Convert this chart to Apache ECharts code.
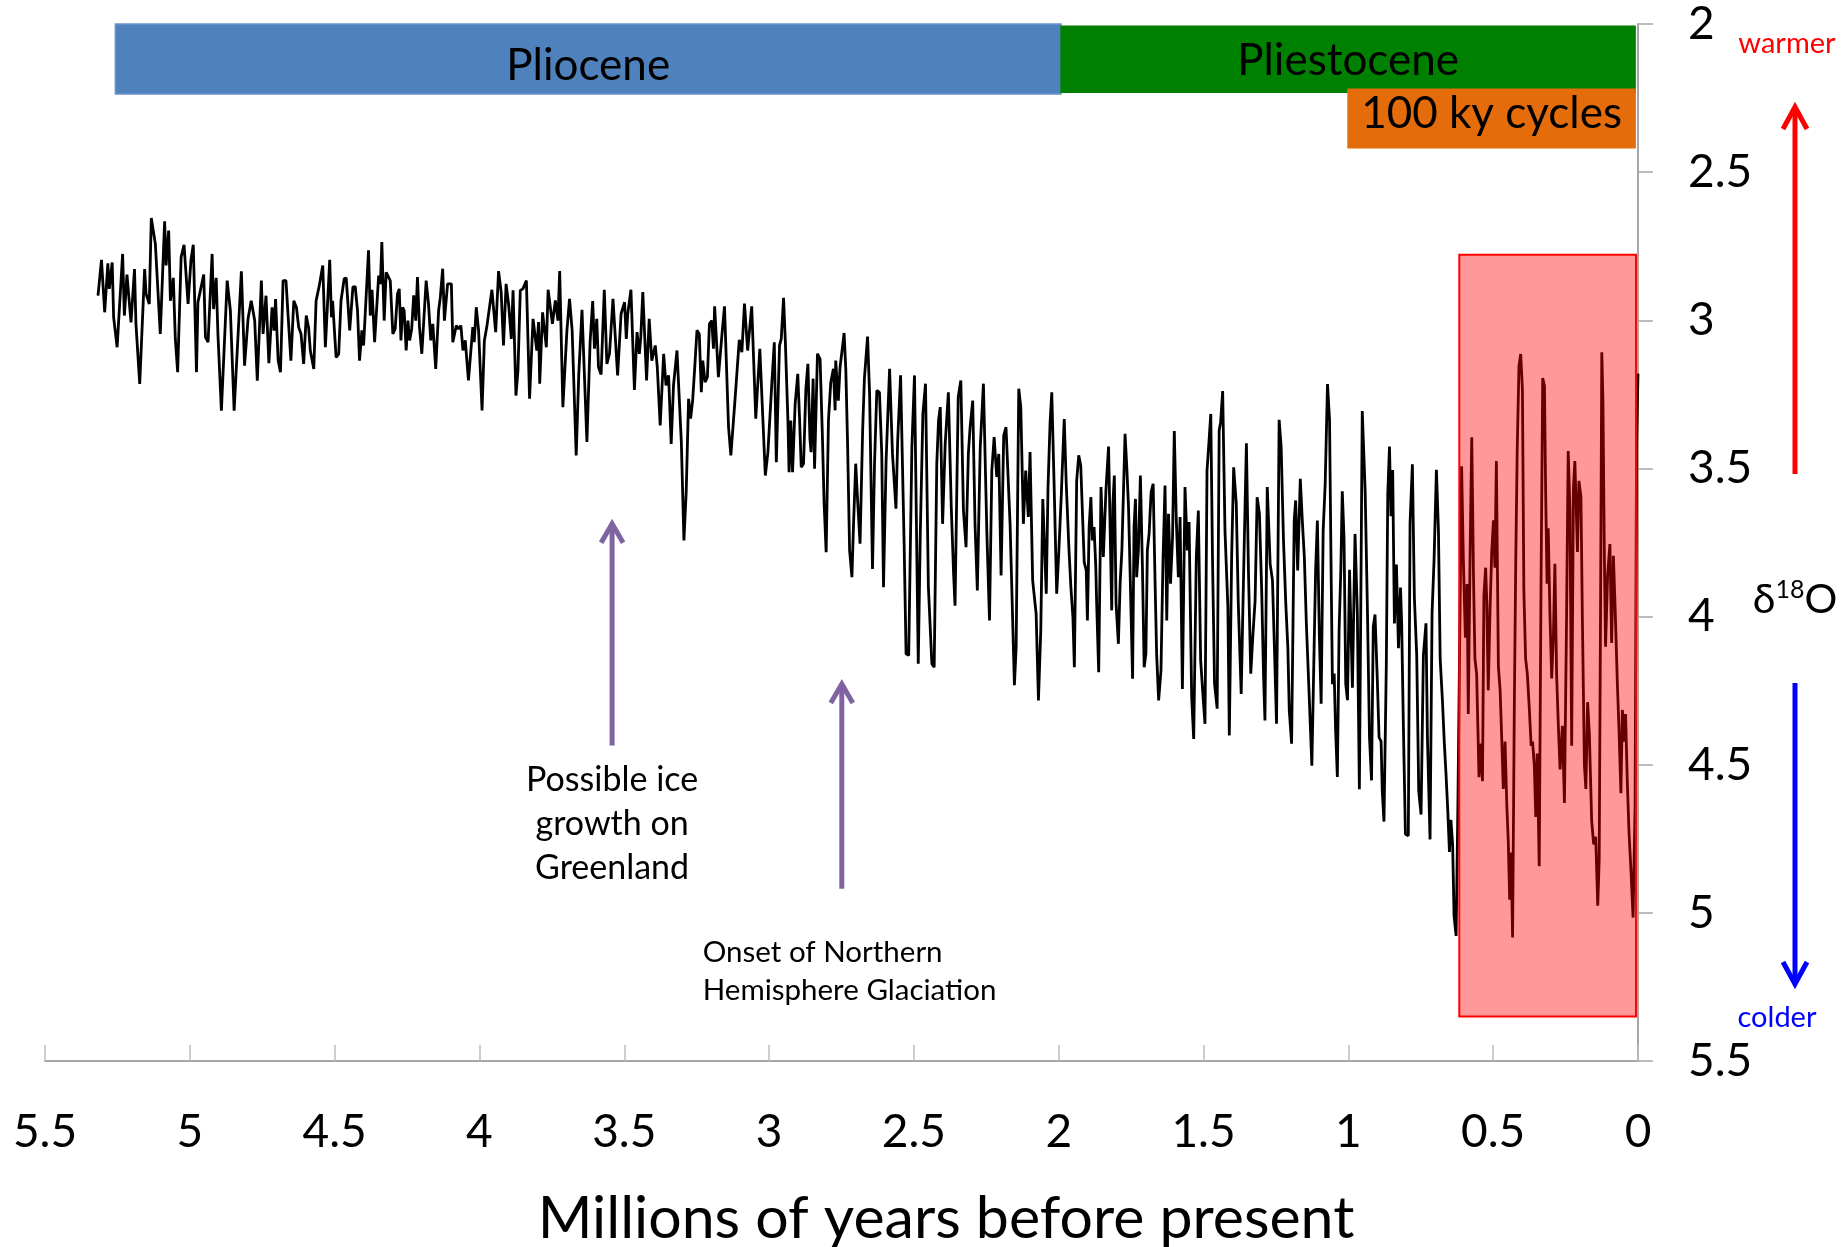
<!doctype html>
<html>
<head>
<meta charset="utf-8">
<style>
html, body { margin: 0; padding: 0; background: #fff; }
#main { width: 1845px; height: 1247px; }
</style>
</head>
<body>
<div id="main"></div>
<script src="https://cdn.jsdelivr.net/npm/echarts@6/dist/echarts.min.js"></script>
<script>
// benthic d18O stack: [age (Ma), d18O (permil)]
var d18oStack = [
  [5.317,2.917],[5.305,2.796],[5.294,2.973],[5.283,2.808],[5.278,2.894],[5.268,2.805],[5.263,2.990],[5.251,3.091],[5.232,2.776],[5.226,2.984],
  [5.217,2.846],[5.203,3.007],[5.191,2.827],[5.186,3.012],[5.173,3.215],[5.156,2.827],[5.151,2.911],[5.140,2.945],[5.133,2.655],[5.119,2.742],
  [5.102,3.046],[5.087,2.666],[5.082,2.815],[5.073,2.697],[5.067,2.934],[5.057,2.857],[5.050,3.063],[5.042,3.175],[5.030,2.787],[5.020,2.745],
  [5.006,2.945],[4.996,2.796],[4.988,2.745],[4.977,3.175],[4.972,2.939],[4.952,2.846],[4.946,3.057],[4.937,3.074],[4.923,2.776],[4.918,2.962],
  [4.909,2.857],[4.903,3.046],[4.891,3.305],[4.871,2.866],[4.860,2.967],[4.847,3.305],[4.822,2.835],[4.811,3.153],[4.799,2.995],[4.788,2.934],
  [4.776,3.001],[4.767,3.204],[4.753,2.866],[4.747,3.046],[4.737,2.917],[4.727,3.145],[4.716,2.956],[4.709,3.035],[4.704,2.928],[4.695,3.136],
  [4.687,3.175],[4.678,2.866],[4.668,2.866],[4.661,2.979],[4.651,3.136],[4.641,2.934],[4.632,2.956],[4.624,3.024],[4.616,3.046],[4.607,3.147],
  [4.598,2.984],[4.590,3.024],[4.584,3.102],[4.572,3.164],[4.564,2.934],[4.553,2.883],[4.541,2.815],[4.532,3.091],[4.517,2.796],[4.511,2.990],
  [4.507,2.934],[4.495,3.125],[4.486,3.114],[4.478,2.934],[4.467,2.860],
  [4.460,2.857],[4.448,3.034],[4.437,2.888],[4.429,2.886],[4.421,2.967],[4.414,3.136],[4.406,3.034],[4.400,3.085],[4.383,2.764],[4.377,2.984],
  [4.371,2.897],[4.362,3.074],[4.348,2.849],[4.342,2.877],[4.337,2.736],[4.329,3.001],[4.322,2.838],[4.308,2.866],[4.299,3.046],[4.291,3.029],
  [4.283,2.911],[4.277,2.894],[4.271,3.068],[4.265,2.956],[4.260,2.967],[4.253,3.102],[4.247,3.001],[4.241,3.068],[4.234,3.029],[4.227,2.916],
  [4.220,3.001],[4.214,2.854],[4.207,3.023],[4.199,3.113],[4.184,2.866],[4.176,2.944],[4.168,3.068],[4.161,3.012],[4.151,3.164],[4.141,2.967],
  [4.135,2.922],[4.127,2.826],[4.121,3.001],[4.110,2.877],[4.097,2.877],[4.092,3.074],[4.080,3.018],[4.072,3.029],[4.064,3.018],[4.057,3.102],
  [4.049,3.068],[4.038,3.203],[4.023,3.023],[4.018,3.074],[4.011,2.956],[4.003,3.034],[3.991,3.304],[3.983,3.068],[3.974,3.018],[3.957,2.897],
  [3.944,3.040],[3.934,2.834],[3.925,2.905],[3.917,3.085],[3.908,2.877],[3.899,2.950],[3.890,3.063],[3.884,2.899],[3.874,3.254],[3.867,3.169],
  [3.859,2.899],[3.850,2.894],[3.838,2.866],[3.827,3.265],[3.815,2.995],[3.802,3.102],[3.796,3.006],[3.792,3.214],[3.782,2.973],[3.769,3.091],
  [3.763,2.897],[3.748,3.012],[3.738,2.933],[3.729,3.001],[3.723,2.834],[3.712,3.293],[3.698,3.034],[3.689,2.928],[3.680,3.034],[3.666,3.456],
  [3.657,3.181],[3.646,2.965],[3.629,3.411],[3.618,3.074],
  [3.609,2.935],[3.603,3.096],[3.595,2.995],[3.589,3.158],[3.580,3.183],[3.569,2.897],[3.560,3.147],[3.551,3.113],[3.539,2.928],[3.523,3.186],
  [3.511,2.978],[3.499,2.939],[3.493,3.063],[3.488,2.978],[3.477,2.897],[3.465,3.235],[3.456,3.040],[3.448,3.113],[3.443,3.057],[3.436,2.905],
  [3.423,3.203],[3.414,2.995],[3.405,3.136],[3.393,3.085],[3.386,3.158],[3.376,3.355],[3.364,3.113],[3.356,3.220],[3.347,3.186],[3.338,3.417],
  [3.330,3.220],[3.318,3.102],[3.303,3.411],[3.294,3.743],[3.286,3.574],[3.278,3.265],[3.271,3.332],[3.264,3.271],[3.257,3.164],[3.249,3.034],
  [3.241,3.046],[3.234,3.243],[3.229,3.136],[3.221,3.209],[3.213,3.192],[3.206,3.012],[3.198,3.001],[3.192,3.096],[3.188,2.953],[3.175,3.192],
  [3.163,3.051],[3.154,2.953],[3.140,3.361],[3.132,3.456],[3.117,3.259],[3.103,3.066],[3.094,3.108],[3.085,2.944],[3.074,3.102],[3.060,2.953],
  [3.046,3.332],[3.032,3.096],[3.013,3.524],[3.004,3.445],[2.990,3.203],[2.982,3.074],[2.975,3.479],[2.964,3.085],[2.958,3.063],[2.950,2.924],
  [2.944,3.068],[2.935,3.338],[2.931,3.513],[2.925,3.338],[2.919,3.513],[2.910,3.282],[2.901,3.181],[2.895,3.327],[2.889,3.496],[2.881,3.484],
  [2.873,3.231],[2.866,3.147],[2.859,3.400],[2.855,3.445],[2.848,3.197],[2.843,3.501],[2.833,3.113],[2.824,3.130],[2.816,3.389],[2.810,3.619],
  [2.803,3.783],[2.795,3.338],[2.787,3.209],[2.778,3.164],[2.772,3.304],
  [2.770,3.136],[2.761,3.271],[2.755,3.158],[2.748,3.102],[2.741,3.043],[2.735,3.169],[2.729,3.417],[2.722,3.777],[2.714,3.867],[2.709,3.704],
  [2.701,3.484],[2.694,3.614],[2.686,3.754],[2.677,3.372],[2.671,3.198],[2.660,3.055],[2.653,3.248],[2.643,3.839],[2.636,3.484],[2.628,3.237],
  [2.619,3.243],[2.611,3.451],[2.605,3.901],[2.596,3.473],[2.584,3.164],[2.574,3.451],[2.562,3.636],[2.556,3.406],[2.546,3.186],[2.534,3.743],
  [2.527,4.126],[2.518,4.131],[2.507,3.428],[2.498,3.186],[2.485,4.159],[2.478,3.721],[2.469,3.316],[2.460,3.214],[2.450,3.901],[2.438,4.159],
  [2.430,4.171],[2.421,3.484],[2.415,3.338],[2.409,3.293],[2.401,3.687],[2.392,3.417],[2.381,3.243],[2.371,3.631],[2.363,3.856],[2.358,3.963],
  [2.347,3.259],[2.338,3.203],[2.329,3.642],[2.320,3.766],[2.312,3.451],[2.306,3.361],[2.297,3.271],[2.289,3.687],[2.281,3.912],[2.271,3.428],
  [2.260,3.214],[2.248,3.721],[2.239,4.013],[2.231,3.507],[2.223,3.394],[2.214,3.529],[2.207,3.451],[2.199,3.861],[2.190,3.389],[2.182,3.361],
  [2.168,3.687],[2.153,4.232],[2.147,4.103],[2.138,3.231],[2.131,3.293],[2.122,3.687],[2.114,3.507],[2.105,3.664],[2.099,3.445],[2.090,3.878],
  [2.078,3.991],[2.070,4.283],[2.062,4.047],[2.055,3.603],[2.043,3.923],[2.037,3.563],[2.030,3.349],[2.024,3.243],[2.016,3.552],[2.007,3.923],
  [2.000,3.788],[1.991,3.586],[1.981,3.333],[1.974,3.552],[1.965,3.766],[1.958,3.901],[1.951,4.002],[1.946,4.171],[1.938,3.541],[1.931,3.456],
  [1.924,3.490],[1.918,3.653],[1.912,3.816],[1.905,3.844],[1.901,4.013],[1.895,3.698],[1.889,3.597],[1.884,3.743],[1.878,3.698],[1.872,3.833],
  [1.869,3.957],[1.862,4.188],[1.854,3.563],[1.846,3.799],[1.837,3.574],[1.828,3.426],[1.823,3.676],[1.817,3.979],[1.813,3.619],[1.808,3.524],
  [1.802,3.957],[1.794,4.092],[1.788,3.889],[1.782,3.777],[1.771,3.383],[1.765,3.496],[1.759,3.631],[1.754,3.833],[1.745,4.210],[1.740,3.698],
  [1.735,3.603],[1.731,3.867],[1.725,3.777],[1.718,3.524],[1.711,3.833],[1.705,4.171],[1.699,4.126],[1.694,3.777],[1.688,3.721],[1.681,3.580],
  [1.674,3.552],[1.667,3.901],[1.662,4.126],[1.655,4.283],[1.647,4.182],[1.640,3.811],[1.633,3.558],[1.627,4.013],[1.621,3.653],[1.614,3.889],
  [1.607,3.732],[1.601,3.374],[1.594,3.676],[1.587,3.867],[1.581,3.664],[1.573,4.244],[1.564,3.563],[1.556,3.777],[1.550,3.681],[1.541,4.272],
  [1.534,4.413],[1.525,3.799],[1.518,3.642],[1.510,4.148],[1.500,4.294],[1.495,4.362],[1.488,3.507],[1.481,3.406],[1.475,3.316],[1.469,3.811],
  [1.462,4.227],[1.453,4.311],[1.446,3.372],[1.441,3.344],[1.434,3.239],[1.426,3.709],[1.416,3.968],[1.411,4.401],[1.403,3.799],[1.396,3.496],
  [1.387,3.619],[1.380,3.957],[1.370,4.261],[1.365,4.013],[1.359,3.732],[1.352,3.415],[1.345,3.844],[1.337,4.193],[1.330,4.069],[1.322,3.946],
  [1.315,3.597],[1.307,3.653],[1.299,3.923],[1.293,4.193],[1.288,4.351],[1.280,3.563],[1.270,3.822],[1.262,3.878],[1.255,4.114],[1.248,4.362],
  [1.239,3.336],[1.232,3.428],[1.224,3.743],[1.216,3.957],[1.209,4.103],[1.204,4.317],[1.196,4.429],[1.187,3.676],[1.182,3.608],[1.175,3.844],
  [1.166,3.535],[1.159,3.676],[1.152,3.799],[1.145,4.024],[1.136,4.249],[1.126,4.503],[1.118,4.092],[1.113,3.844],[1.107,3.676],[1.100,4.069],
  [1.094,4.294],[1.087,3.709],[1.080,3.552],
  [1.072,3.215],[1.065,3.336],[1.060,3.806],[1.055,4.228],[1.049,4.192],[1.044,4.384],[1.038,4.541],[1.032,4.047],[1.026,3.842],[1.021,3.577],
  [1.015,3.734],[1.009,4.228],[1.003,4.282],[0.996,3.842],[0.991,4.047],[0.986,4.240],[0.977,3.721],[0.969,3.987],[0.962,4.583],[0.957,3.950],
  [0.952,3.306],[0.942,3.577],[0.934,3.987],[0.927,4.408],[0.920,4.553],[0.914,4.035],[0.908,3.993],[0.900,4.216],[0.894,4.408],[0.887,4.421],
  [0.883,4.589],[0.877,4.692],[0.869,4.167],[0.864,3.589],[0.858,3.426],[0.853,3.661],[0.847,3.505],[0.841,4.023],[0.834,3.824],[0.827,4.107],
  [0.820,3.902],[0.816,4.023],[0.810,4.372],[0.803,4.734],[0.793,4.740],[0.787,3.685],[0.779,3.486],[0.772,3.938],[0.764,4.131],[0.757,4.589],
  [0.749,4.668],[0.741,4.131],[0.732,4.023],[0.727,4.408],[0.718,4.752],[0.711,3.987],[0.704,3.806],[0.696,3.505],[0.689,3.709],[0.683,4.143],
  [0.675,4.288],[0.669,4.421],[0.663,4.529],[0.657,4.650],[0.651,4.794],[0.646,4.686],[0.640,4.770],[0.635,5.011],[0.628,5.078],[0.622,4.650],
  [0.609,3.493],[0.603,3.806],[0.596,4.071],[0.590,3.890],
  [0.586,4.329],[0.580,3.808],[0.574,3.395],[0.568,3.862],[0.563,4.142],[0.557,4.195],[0.553,4.369],[0.549,4.542],[0.543,4.429],[0.537,4.556],
  [0.532,3.929],[0.526,3.835],[0.522,3.955],[0.517,4.249],[0.511,3.982],[0.505,3.782],[0.499,3.675],[0.494,3.835],[0.489,3.475],[0.482,4.169],
  [0.476,4.249],[0.471,4.396],[0.465,4.582],[0.459,4.422],[0.453,4.636],[0.448,4.756],[0.443,4.956],[0.438,4.796],[0.433,5.083],[0.427,4.302],
  [0.422,3.808],[0.417,3.435],[0.411,3.155],[0.405,3.114],[0.399,3.235],[0.394,3.915],[0.388,4.142],[0.382,4.195],[0.375,4.315],[0.369,4.436],
  [0.364,4.422],[0.358,4.502],[0.353,4.676],[0.348,4.462],[0.341,4.843],[0.335,3.915],[0.329,3.195],[0.323,3.221],[0.319,3.568],[0.314,3.889],
  [0.310,3.702],[0.304,3.995],[0.298,4.209],[0.292,4.062],[0.287,3.822],[0.281,4.195],[0.275,4.369],[0.269,4.516],[0.261,4.369],[0.254,4.629],
  [0.247,4.035],[0.241,3.441],[0.235,3.635],[0.229,4.436],[0.223,3.568],[0.218,3.475],[0.209,3.782],[0.204,3.542],[0.197,3.595],[0.192,4.009],
  [0.185,4.502],[0.180,4.582],[0.174,4.289],[0.168,4.396],[0.160,4.689],[0.153,4.769],[0.146,4.743],[0.139,4.976],[0.134,4.823],[0.129,3.915],
  [0.125,3.108],[0.121,3.275],[0.116,3.808],[0.112,4.102],[0.105,3.862],[0.097,3.755],[0.091,4.089],[0.085,3.795],[0.079,3.969],[0.071,4.235],
  [0.066,4.369],[0.059,4.596],[0.054,4.315],[0.047,4.422],[0.043,4.329],[0.037,4.556],[0.031,4.729],[0.024,4.863],[0.017,5.016],[0.010,4.636],
  [0.005,3.420],[0.000,3.180]
];

// epoch / regime bars along the top (ages in Ma)
var epochNames = ['Pliocene', 'Pliestocene', '100 ky cycles'];
var epochFrom = [5.257, 1.992, 1.001];
var epochTo = [1.992, 0.010, 0.010];

// highlighted 100 ky window
var focusAge = [0.617, 0.007];
var focusD18O = [2.779, 5.35];

// purple arrows with notes
var noteText = ['Possible ice\ngrowth on\nGreenland', 'Onset of Northern\nHemisphere Glaciation'];
var noteAge = [3.542, 2.749];
var noteTip = [3.68, 4.221];
var noteBase = [4.435, 4.919];

// layout / style of the decorations
var FONT = 'Lato, "DejaVu Sans", sans-serif';
var bandTop = [2.0, 2.008, 2.22];
var bandBottom = [2.236, 2.23, 2.418];
var bandColor = ['#4f81bd', '#008000', '#e46c0a'];
var bandStroke = ['#6a93c8', '#008000', '#e46c0a'];
var bandTextDy = [7, 2, -5];
var noteDx = [0, -139];
var noteDy = [13, 45];
var noteSize = [34, 29.5];
var noteLine = [44, 38];
var noteAlign = ['center', 'left'];
var PURPLE = '#8064a2';

var chart = echarts.init(document.getElementById('main'));

chart.setOption({
    animation: false,
    grid: { left: 45, right: 207, top: 24, bottom: 186, outerBoundsMode: 'none' },
    xAxis: {
        type: 'value',
        min: 0,
        max: 5.5,
        interval: 0.5,
        inverse: true,
        axisLine: { lineStyle: { color: '#a6a6a6', width: 2 } },
        axisTick: { inside: true, length: 16, lineStyle: { color: '#bdbdbd', width: 1.5 } },
        axisLabel: { fontSize: 46, fontFamily: FONT, color: '#000', margin: 48 },
        splitLine: { show: false },
        name: 'Millions of years before present',
        nameLocation: 'middle',
        nameGap: 128,
        nameTextStyle: { fontSize: 59, fontFamily: FONT, color: '#000', padding: [0, 0, 0, 209] }
    },
    yAxis: {
        type: 'value',
        min: 2,
        max: 5.5,
        interval: 0.5,
        inverse: true,
        position: 'right',
        axisLine: { show: true, lineStyle: { color: '#a6a6a6', width: 2 } },
        axisTick: { show: true, length: 15, lineStyle: { color: '#a6a6a6', width: 1.5 } },
        axisLabel: { fontSize: 46, fontFamily: FONT, color: '#000', margin: 50 },
        splitLine: { show: false }
    },
    series: [
        {
            type: 'line',
            data: d18oStack,
            showSymbol: false,
            z: 2,
            lineStyle: { color: '#000', width: 2.8 }
        },
        {
            // 100 ky window, translucent red laid over the curve
            type: 'custom',
            z: 3,
            silent: true,
            data: [[focusAge[0], focusD18O[0], focusAge[1], focusD18O[1]]],
            renderItem: function (params, api) {
                var a = api.coord([api.value(0), api.value(1)]);
                var b = api.coord([api.value(2), api.value(3)]);
                return {
                    type: 'rect',
                    shape: { x: a[0], y: a[1], width: b[0] - a[0], height: b[1] - a[1] },
                    style: { fill: 'rgba(255,0,0,0.4)', stroke: '#ff0000', lineWidth: 2 }
                };
            }
        },
        {
            type: 'custom',
            z: 3,
            silent: true,
            data: epochNames.map(function (n, i) { return [epochFrom[i], epochTo[i], i]; }),
            renderItem: function (params, api) {
                var i = api.value(2);
                var a = api.coord([api.value(0), bandTop[i]]);
                var b = api.coord([api.value(1), bandBottom[i]]);
                return {
                    type: 'rect',
                    shape: { x: a[0], y: a[1], width: b[0] - a[0], height: b[1] - a[1] },
                    style: { fill: bandColor[i], stroke: bandStroke[i], lineWidth: 1.5 },
                    textContent: {
                        style: { text: epochNames[i], fontSize: 44, fontFamily: FONT, fill: '#000' }
                    },
                    textConfig: { position: 'inside', offset: [0, bandTextDy[i]] }
                };
            }
        },
        {
            type: 'custom',
            z: 4,
            silent: true,
            data: noteAge.map(function (t, i) { return [t, noteTip[i], noteBase[i]]; }),
            renderItem: function (params, api) {
                var i = params.dataIndex;
                var tip = api.coord([api.value(0), api.value(1)]);
                var base = api.coord([api.value(0), api.value(2)]);
                return {
                    type: 'group',
                    children: [
                        {
                            type: 'line',
                            shape: { x1: base[0], y1: base[1], x2: tip[0], y2: tip[1] + 2 },
                            style: { stroke: PURPLE, lineWidth: 5 }
                        },
                        {
                            type: 'polyline',
                            shape: { points: [[tip[0] - 11, tip[1] + 21], [tip[0], tip[1] + 2], [tip[0] + 11, tip[1] + 21]] },
                            style: { stroke: PURPLE, lineWidth: 5, fill: null }
                        },
                        {
                            type: 'text',
                            x: base[0] + noteDx[i],
                            y: base[1] + noteDy[i],
                            style: {
                                text: noteText[i],
                                fontSize: noteSize[i],
                                fontFamily: FONT,
                                lineHeight: noteLine[i],
                                align: noteAlign[i],
                                verticalAlign: 'top',
                                fill: '#000'
                            }
                        }
                    ]
                };
            }
        }
    ],
    graphic: [
        { type: 'text', x: 1787, y: 44, style: { text: 'warmer', fontSize: 29, fontFamily: FONT, fill: '#ff0000', align: 'center', verticalAlign: 'middle' } },
        { type: 'line', shape: { x1: 1795, y1: 474, x2: 1795, y2: 108 }, style: { stroke: '#ff0000', lineWidth: 5 } },
        { type: 'polyline', shape: { points: [[1783, 129], [1795, 107], [1807, 129]] }, style: { stroke: '#ff0000', lineWidth: 5, fill: null } },
        {
            type: 'text', x: 1795, y: 600,
            style: {
                text: '{b|δ}{s|18}{b|O}',
                align: 'center', verticalAlign: 'middle',
                rich: {
                    b: { fontSize: 41, fontFamily: FONT, fill: '#000', lineHeight: 46 },
                    s: { fontSize: 25, fontFamily: FONT, fill: '#000', verticalAlign: 'top', lineHeight: 30 }
                }
            }
        },
        { type: 'line', shape: { x1: 1795, y1: 683, x2: 1795, y2: 983 }, style: { stroke: '#0000ff', lineWidth: 5 } },
        { type: 'polyline', shape: { points: [[1783, 962], [1795, 984], [1807, 962]] }, style: { stroke: '#0000ff', lineWidth: 5, fill: null } },
        { type: 'text', x: 1777, y: 1018, style: { text: 'colder', fontSize: 29, fontFamily: FONT, fill: '#0000ff', align: 'center', verticalAlign: 'middle' } }
    ]
});

window.onresize = chart.resize;
</script>
</body>
</html>
